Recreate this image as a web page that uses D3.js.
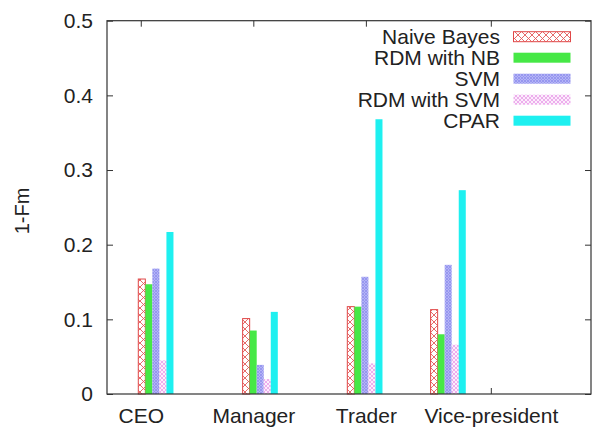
<!DOCTYPE html>
<html>
<head>
<meta charset="utf-8">
<script src="https://cdn.jsdelivr.net/npm/d3@7/dist/d3.min.js"></script>
<style>
  html, body { margin: 0; padding: 0; background: #fff; }
  svg { display: block; font-family: "Liberation Sans", Arial, Helvetica, sans-serif; }
</style>
</head>
<body>
<svg id="chart" width="592" height="430"></svg>
<script>
// Job categories and their x positions on the numeric x axis
const categories = ["CEO", "Manager", "Trader", "Vice-president"];
const categoryX = [0, 1, 2, 3.11];
// x value where each category's cluster of bars begins
const clusterX = [-0.022, 0.905, 1.835, 2.575];

// Classifiers
const methods = ["Naive Bayes", "RDM with NB", "SVM", "RDM with SVM", "CPAR"];

// 1-Fm per classifier, one value per category
const naiveBayes = [0.154, 0.101, 0.117, 0.113];
const rdmNB      = [0.147, 0.085, 0.117, 0.080];
const svm        = [0.168, 0.039, 0.157, 0.173];
const rdmSVM     = [0.045, 0.020, 0.041, 0.066];
const cpar       = [0.217, 0.110, 0.368, 0.273];
const series = [naiveBayes, rdmNB, svm, rdmSVM, cpar];

const yTicks = [0, 0.1, 0.2, 0.3, 0.4, 0.5];

const svg = d3.select("#chart");
const margin = { left: 107, top: 20.7, right: 1, bottom: 36 };
const W = 592, H = 430;
const plotW = W - margin.left - margin.right;
const plotH = H - margin.top - margin.bottom;

const x = d3.scaleLinear().domain([-0.3, 4.0]).range([margin.left, margin.left + plotW]);
const y = d3.scaleLinear().domain([0, 0.5]).range([margin.top + plotH, margin.top]);
const barW = x(0.0625) - x(0);

// fill patterns
const defs = svg.append("defs");
function crossHatch(id, color, size, sw, bg) {
  const p = defs.append("pattern").attr("id", id)
    .attr("patternUnits", "userSpaceOnUse").attr("width", size).attr("height", size);
  p.append("rect").attr("width", size).attr("height", size).attr("fill", bg);
  p.append("path").attr("d", `M0,0L${size},${size}M${size},0L0,${size}`)
    .attr("stroke", color).attr("stroke-width", sw).attr("fill", "none");
}
crossHatch("pNB", "#e35a5a", 7, 0.9, "#fff");
crossHatch("pSVM", "#9494ee", 3, 0.9, "#b4b4f6");
crossHatch("pRSVM", "#e690e6", 4, 0.7, "#fbeefb");

const styles = [
  { fill: "url(#pNB)", stroke: "#e04848" },
  { fill: "#46e846", stroke: "none" },
  { fill: "url(#pSVM)", stroke: "none" },
  { fill: "url(#pRSVM)", stroke: "none" },
  { fill: "#1ef0f0", stroke: "none" }
];

const textColor = "#222";
const fontSize = 21;

// axes: ticks point into the plot
const axisColor = "#333";
function styleAxis(g) {
  g.select(".domain").remove();
  g.selectAll(".tick line").attr("stroke", axisColor);
  g.selectAll(".tick text").attr("fill", textColor).attr("font-size", fontSize)
    .attr("font-family", "Liberation Sans, Arial, sans-serif");
}

svg.append("g").attr("transform", `translate(${margin.left},0)`)
  .call(d3.axisLeft(y).tickValues(yTicks).tickFormat(d3.format("~g"))
    .tickSizeInner(-6).tickSizeOuter(0).tickPadding(14))
  .call(styleAxis);

svg.append("g").attr("transform", `translate(${margin.left + plotW},0)`)
  .call(d3.axisRight(y).tickValues(yTicks).tickFormat("")
    .tickSizeInner(-6).tickSizeOuter(0))
  .call(styleAxis);

svg.append("g").attr("transform", `translate(0,${margin.top + plotH})`)
  .call(d3.axisBottom(x).tickValues(categoryX).tickFormat((d, i) => categories[i])
    .tickSizeInner(-6).tickSizeOuter(0).tickPadding(14))
  .call(styleAxis);

svg.append("g").attr("transform", `translate(0,${margin.top})`)
  .call(d3.axisTop(x).tickValues(categoryX).tickFormat("")
    .tickSizeInner(-6).tickSizeOuter(0))
  .call(styleAxis);

// bars
const bars = svg.append("g");
series.forEach((vals, s) => {
  bars.selectAll(null).data(vals).enter().append("rect")
    .attr("x", (d, i) => x(clusterX[i]) + s * barW)
    .attr("y", d => y(d))
    .attr("width", barW)
    .attr("height", d => y(0) - y(d))
    .attr("fill", styles[s].fill)
    .attr("stroke", styles[s].stroke)
    .attr("stroke-width", styles[s].stroke === "none" ? 0 : 1);
});

// frame
svg.append("rect")
  .attr("x", margin.left).attr("y", margin.top)
  .attr("width", plotW).attr("height", plotH)
  .attr("fill", "none").attr("stroke", axisColor).attr("stroke-width", 1.2);

// y axis title
svg.append("text")
  .attr("transform", `translate(29,211) rotate(-90)`)
  .attr("text-anchor", "middle")
  .attr("font-size", 20).attr("fill", textColor)
  .text("1-Fm");

// legend
const legend = svg.append("g");
methods.forEach((m, i) => {
  const cy = 36.7 + i * 21;
  legend.append("text")
    .attr("x", 500).attr("y", cy + 7.5)
    .attr("text-anchor", "end")
    .attr("font-size", fontSize).attr("fill", textColor)
    .text(m);
  legend.append("rect")
    .attr("x", 513.5).attr("y", cy - 5)
    .attr("width", 57).attr("height", 10)
    .attr("fill", styles[i].fill)
    .attr("stroke", styles[i].stroke)
    .attr("stroke-width", styles[i].stroke === "none" ? 0 : 1);
});
</script>
</body>
</html>
